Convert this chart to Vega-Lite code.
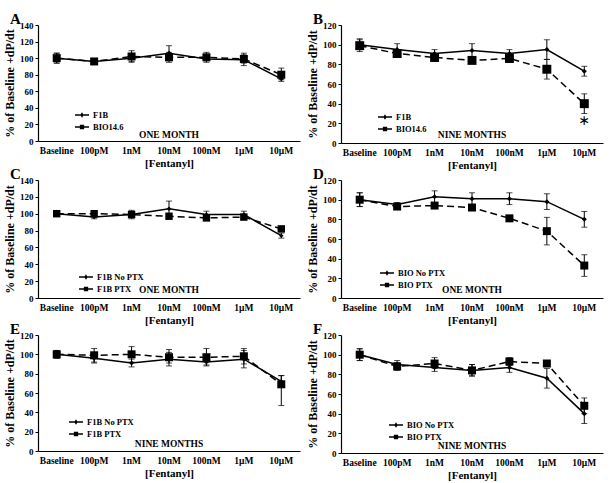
{
"$schema": "https://vega.github.io/schema/vega-lite/v6.json",
"padding": {"left": 3, "top": 12, "right": 5, "bottom": 3},
"background": "white",
"datasets": {
"d": [
{"p":"A","s":"F1B","k":1,"d":"Baseline","v":100,"lo":94,"hi":106},
{"p":"A","s":"F1B","k":1,"d":"100pM","v":96,"lo":94,"hi":98},
{"p":"A","s":"F1B","k":1,"d":"1nM","v":100,"lo":95,"hi":105},
{"p":"A","s":"F1B","k":1,"d":"10nM","v":106,"lo":97,"hi":115},
{"p":"A","s":"F1B","k":1,"d":"100nM","v":99,"lo":95,"hi":104},
{"p":"A","s":"F1B","k":1,"d":"1μM","v":98,"lo":91,"hi":106},
{"p":"A","s":"F1B","k":1,"d":"10μM","v":75,"lo":72,"hi":78},
{"p":"A","s":"BIO14.6","k":2,"d":"Baseline","v":100,"lo":94,"hi":106},
{"p":"A","s":"BIO14.6","k":2,"d":"100pM","v":96,"lo":94,"hi":98},
{"p":"A","s":"BIO14.6","k":2,"d":"1nM","v":102,"lo":96,"hi":109},
{"p":"A","s":"BIO14.6","k":2,"d":"10nM","v":101,"lo":95,"hi":107},
{"p":"A","s":"BIO14.6","k":2,"d":"100nM","v":101,"lo":97,"hi":107},
{"p":"A","s":"BIO14.6","k":2,"d":"1μM","v":99,"lo":94,"hi":104},
{"p":"A","s":"BIO14.6","k":2,"d":"10μM","v":80,"lo":74,"hi":88},
{"p":"B","s":"F1B","k":1,"d":"Baseline","v":100,"lo":95,"hi":106},
{"p":"B","s":"F1B","k":1,"d":"100pM","v":95,"lo":89,"hi":101},
{"p":"B","s":"F1B","k":1,"d":"1nM","v":91,"lo":87,"hi":95},
{"p":"B","s":"F1B","k":1,"d":"10nM","v":94,"lo":87,"hi":101},
{"p":"B","s":"F1B","k":1,"d":"100nM","v":91,"lo":87,"hi":95},
{"p":"B","s":"F1B","k":1,"d":"1μM","v":95,"lo":85,"hi":105},
{"p":"B","s":"F1B","k":1,"d":"10μM","v":73,"lo":68,"hi":78},
{"p":"B","s":"BIO14.6","k":2,"d":"Baseline","v":99,"lo":93,"hi":105},
{"p":"B","s":"BIO14.6","k":2,"d":"100pM","v":91,"lo":88,"hi":94},
{"p":"B","s":"BIO14.6","k":2,"d":"1nM","v":87,"lo":83,"hi":91},
{"p":"B","s":"BIO14.6","k":2,"d":"10nM","v":84,"lo":81,"hi":87},
{"p":"B","s":"BIO14.6","k":2,"d":"100nM","v":86,"lo":82,"hi":90},
{"p":"B","s":"BIO14.6","k":2,"d":"1μM","v":75,"lo":65,"hi":85},
{"p":"B","s":"BIO14.6","k":2,"d":"10μM","v":40,"lo":30,"hi":50},
{"p":"C","s":"F1B No PTX","k":1,"d":"Baseline","v":100,"lo":98,"hi":102},
{"p":"C","s":"F1B No PTX","k":1,"d":"100pM","v":96,"lo":94,"hi":98},
{"p":"C","s":"F1B No PTX","k":1,"d":"1nM","v":99,"lo":94,"hi":104},
{"p":"C","s":"F1B No PTX","k":1,"d":"10nM","v":106,"lo":97,"hi":115},
{"p":"C","s":"F1B No PTX","k":1,"d":"100nM","v":99,"lo":95,"hi":103},
{"p":"C","s":"F1B No PTX","k":1,"d":"1μM","v":99,"lo":96,"hi":103},
{"p":"C","s":"F1B No PTX","k":1,"d":"10μM","v":74,"lo":71,"hi":77},
{"p":"C","s":"F1B PTX","k":2,"d":"Baseline","v":100,"lo":98,"hi":102},
{"p":"C","s":"F1B PTX","k":2,"d":"100pM","v":100,"lo":98,"hi":102},
{"p":"C","s":"F1B PTX","k":2,"d":"1nM","v":99,"lo":96,"hi":102},
{"p":"C","s":"F1B PTX","k":2,"d":"10nM","v":97,"lo":95,"hi":99},
{"p":"C","s":"F1B PTX","k":2,"d":"100nM","v":95,"lo":93,"hi":97},
{"p":"C","s":"F1B PTX","k":2,"d":"1μM","v":96,"lo":94,"hi":98},
{"p":"C","s":"F1B PTX","k":2,"d":"10μM","v":82,"lo":79,"hi":85},
{"p":"D","s":"BIO No PTX","k":1,"d":"Baseline","v":100,"lo":93,"hi":107},
{"p":"D","s":"BIO No PTX","k":1,"d":"100pM","v":95,"lo":93,"hi":97},
{"p":"D","s":"BIO No PTX","k":1,"d":"1nM","v":103,"lo":97,"hi":109},
{"p":"D","s":"BIO No PTX","k":1,"d":"10nM","v":101,"lo":95,"hi":107},
{"p":"D","s":"BIO No PTX","k":1,"d":"100nM","v":101,"lo":95,"hi":107},
{"p":"D","s":"BIO No PTX","k":1,"d":"1μM","v":98,"lo":90,"hi":106},
{"p":"D","s":"BIO No PTX","k":1,"d":"10μM","v":80,"lo":72,"hi":88},
{"p":"D","s":"BIO PTX","k":2,"d":"Baseline","v":100,"lo":93,"hi":107},
{"p":"D","s":"BIO PTX","k":2,"d":"100pM","v":93,"lo":91,"hi":95},
{"p":"D","s":"BIO PTX","k":2,"d":"1nM","v":94,"lo":91,"hi":97},
{"p":"D","s":"BIO PTX","k":2,"d":"10nM","v":92,"lo":90,"hi":94},
{"p":"D","s":"BIO PTX","k":2,"d":"100nM","v":81,"lo":79,"hi":83},
{"p":"D","s":"BIO PTX","k":2,"d":"1μM","v":68,"lo":54,"hi":82},
{"p":"D","s":"BIO PTX","k":2,"d":"10μM","v":33,"lo":22,"hi":44},
{"p":"E","s":"F1B No PTX","k":1,"d":"Baseline","v":100,"lo":96,"hi":104},
{"p":"E","s":"F1B No PTX","k":1,"d":"100pM","v":96,"lo":91,"hi":101},
{"p":"E","s":"F1B No PTX","k":1,"d":"1nM","v":91,"lo":87,"hi":95},
{"p":"E","s":"F1B No PTX","k":1,"d":"10nM","v":95,"lo":88,"hi":102},
{"p":"E","s":"F1B No PTX","k":1,"d":"100nM","v":92,"lo":88,"hi":96},
{"p":"E","s":"F1B No PTX","k":1,"d":"1μM","v":95,"lo":86,"hi":104},
{"p":"E","s":"F1B No PTX","k":1,"d":"10μM","v":72,"lo":66,"hi":78},
{"p":"E","s":"F1B PTX","k":2,"d":"Baseline","v":100,"lo":96,"hi":104},
{"p":"E","s":"F1B PTX","k":2,"d":"100pM","v":99,"lo":92,"hi":106},
{"p":"E","s":"F1B PTX","k":2,"d":"1nM","v":100,"lo":92,"hi":108},
{"p":"E","s":"F1B PTX","k":2,"d":"10nM","v":97,"lo":91,"hi":105},
{"p":"E","s":"F1B PTX","k":2,"d":"100nM","v":97,"lo":89,"hi":106},
{"p":"E","s":"F1B PTX","k":2,"d":"1μM","v":98,"lo":90,"hi":106},
{"p":"E","s":"F1B PTX","k":2,"d":"10μM","v":69,"lo":47,"hi":78},
{"p":"F","s":"BIO No PTX","k":1,"d":"Baseline","v":100,"lo":94,"hi":106},
{"p":"F","s":"BIO No PTX","k":1,"d":"100pM","v":90,"lo":86,"hi":94},
{"p":"F","s":"BIO No PTX","k":1,"d":"1nM","v":87,"lo":83,"hi":91},
{"p":"F","s":"BIO No PTX","k":1,"d":"10nM","v":84,"lo":78,"hi":90},
{"p":"F","s":"BIO No PTX","k":1,"d":"100nM","v":87,"lo":82,"hi":92},
{"p":"F","s":"BIO No PTX","k":1,"d":"1μM","v":76,"lo":66,"hi":86},
{"p":"F","s":"BIO No PTX","k":1,"d":"10μM","v":40,"lo":30,"hi":50},
{"p":"F","s":"BIO PTX","k":2,"d":"Baseline","v":100,"lo":94,"hi":106},
{"p":"F","s":"BIO PTX","k":2,"d":"100pM","v":88,"lo":84,"hi":92},
{"p":"F","s":"BIO PTX","k":2,"d":"1nM","v":91,"lo":86,"hi":97},
{"p":"F","s":"BIO PTX","k":2,"d":"10nM","v":84,"lo":79,"hi":90},
{"p":"F","s":"BIO PTX","k":2,"d":"100nM","v":93,"lo":89,"hi":97},
{"p":"F","s":"BIO PTX","k":2,"d":"1μM","v":91,"lo":88,"hi":94},
{"p":"F","s":"BIO PTX","k":2,"d":"10μM","v":48,"lo":40,"hi":56}
]
},
"columns": 2,
"bounds": "flush",
"spacing": {"column": 41, "row": 37},
"concat": [
{
"width": 262, "height": 116,
"title": {"text": "A"},
"data": {"name": "d"},
"transform": [{"filter": "datum.p == 'A'"}],
"encoding": {"x": {"field": "d", "type": "ordinal", "sort": ["Baseline","100pM","1nM","10nM","100nM","1μM","10μM"], "scale": {"type": "band", "paddingInner": 0, "paddingOuter": 0}, "axis": {"title": "[Fentanyl]"}}},
"layer": [
{"mark": {"type": "rule", "color": "black", "strokeWidth": 1}, "encoding": {"y": {"field": "lo", "type": "quantitative", "scale": {"domain": [0, 140], "nice": false}, "axis": {"title": "% of Baseline +dP/dt", "values": [0,20,40,60,80,100,120,140]}}, "y2": {"field": "hi"}}},
{"mark": {"type": "tick", "color": "black", "size": 6, "thickness": 1, "orient": "horizontal"}, "encoding": {"y": {"field": "lo", "type": "quantitative", "axis": {"values": [0,20,40,60,80,100,120,140]}}}},
{"mark": {"type": "tick", "color": "black", "size": 6, "thickness": 1, "orient": "horizontal"}, "encoding": {"y": {"field": "hi", "type": "quantitative", "axis": {"values": [0,20,40,60,80,100,120,140]}}}},
{"transform": [{"filter": "datum.k == 1"}], "mark": {"type": "line", "color": "black", "strokeWidth": 1.5}, "encoding": {"y": {"field": "v", "type": "quantitative", "axis": {"values": [0,20,40,60,80,100,120,140]}}}},
{"transform": [{"filter": "datum.k == 2"}], "mark": {"type": "line", "color": "black", "strokeWidth": 1.5, "strokeDash": [7, 4]}, "encoding": {"y": {"field": "v", "type": "quantitative", "axis": {"values": [0,20,40,60,80,100,120,140]}}}},
{"transform": [{"filter": "datum.k == 1"}], "mark": {"type": "point", "shape": "diamond", "filled": true, "color": "black", "size": 25, "opacity": 1}, "encoding": {"y": {"field": "v", "type": "quantitative", "axis": {"values": [0,20,40,60,80,100,120,140]}}}},
{"transform": [{"filter": "datum.k == 2"}], "mark": {"type": "point", "shape": "square", "filled": true, "color": "black", "size": 64, "opacity": 1}, "encoding": {"y": {"field": "v", "type": "quantitative", "axis": {"values": [0,20,40,60,80,100,120,140]}}}},
{"transform": [{"filter": "false"}], "mark": {"type": "point", "filled": true, "strokeWidth": 1.3, "size": 100, "opacity": 1}, "encoding": {"y": {"field": "v", "type": "quantitative", "axis": {"values": [0,20,40,60,80,100,120,140]}},
 "shape": {"field": "s", "type": "nominal", "scale": {"domain": ["F1B", "BIO14.6"], "range": ["M-1.4,0H1.4M0,-0.3L0.2,0L0,0.3L-0.2,0Z", "M-1.4,0H1.4M-0.3,-0.3H0.3V0.3H-0.3Z"]}, "legend": {"orient": "none", "legendX": 38, "legendY": 84, "title": null}},
 "color": {"field": "s", "type": "nominal", "scale": {"domain": ["F1B", "BIO14.6"], "range": ["black", "black"]}, "legend": {"orient": "none", "legendX": 38, "legendY": 84, "title": null}},
 "stroke": {"field": "s", "type": "nominal", "scale": {"domain": ["F1B", "BIO14.6"], "range": ["black", "black"]}, "legend": {"orient": "none", "legendX": 38, "legendY": 84, "title": null}}}},
{"data": {"values": [{"t": "ONE MONTH"}]}, "mark": {"type": "text", "color": "black", "fill": "black", "fontWeight": "bold", "fontSize": 9.5, "font": "Liberation Serif", "baseline": "middle"}, "encoding": {"x": {"datum": "10nM"}, "y": {"datum": 7, "axis": {"values": [0,20,40,60,80,100,120,140]}}, "text": {"field": "t"}}}
]
},
{
"width": 262, "height": 118,
"title": {"text": "B"},
"data": {"name": "d"},
"transform": [{"filter": "datum.p == 'B'"}],
"encoding": {"x": {"field": "d", "type": "ordinal", "sort": ["Baseline","100pM","1nM","10nM","100nM","1μM","10μM"], "scale": {"type": "band", "paddingInner": 0, "paddingOuter": 0}, "axis": {"title": "[Fentanyl]"}}},
"layer": [
{"mark": {"type": "rule", "color": "black", "strokeWidth": 1}, "encoding": {"y": {"field": "lo", "type": "quantitative", "scale": {"domain": [0, 120], "nice": false}, "axis": {"title": "% of Baseline +dP/dt", "values": [0,20,40,60,80,100,120]}}, "y2": {"field": "hi"}}},
{"mark": {"type": "tick", "color": "black", "size": 6, "thickness": 1, "orient": "horizontal"}, "encoding": {"y": {"field": "lo", "type": "quantitative", "axis": {"values": [0,20,40,60,80,100,120]}}}},
{"mark": {"type": "tick", "color": "black", "size": 6, "thickness": 1, "orient": "horizontal"}, "encoding": {"y": {"field": "hi", "type": "quantitative", "axis": {"values": [0,20,40,60,80,100,120]}}}},
{"transform": [{"filter": "datum.k == 1"}], "mark": {"type": "line", "color": "black", "strokeWidth": 1.5}, "encoding": {"y": {"field": "v", "type": "quantitative", "axis": {"values": [0,20,40,60,80,100,120]}}}},
{"transform": [{"filter": "datum.k == 2"}], "mark": {"type": "line", "color": "black", "strokeWidth": 1.5, "strokeDash": [7, 4]}, "encoding": {"y": {"field": "v", "type": "quantitative", "axis": {"values": [0,20,40,60,80,100,120]}}}},
{"transform": [{"filter": "datum.k == 1"}], "mark": {"type": "point", "shape": "diamond", "filled": true, "color": "black", "size": 25, "opacity": 1}, "encoding": {"y": {"field": "v", "type": "quantitative", "axis": {"values": [0,20,40,60,80,100,120]}}}},
{"transform": [{"filter": "datum.k == 2"}], "mark": {"type": "point", "shape": "square", "filled": true, "color": "black", "size": 80, "opacity": 1}, "encoding": {"y": {"field": "v", "type": "quantitative", "axis": {"values": [0,20,40,60,80,100,120]}}}},
{"transform": [{"filter": "false"}], "mark": {"type": "point", "filled": true, "strokeWidth": 1.3, "size": 100, "opacity": 1}, "encoding": {"y": {"field": "v", "type": "quantitative", "axis": {"values": [0,20,40,60,80,100,120]}},
 "shape": {"field": "s", "type": "nominal", "scale": {"domain": ["F1B", "BIO14.6"], "range": ["M-1.4,0H1.4M0,-0.3L0.2,0L0,0.3L-0.2,0Z", "M-1.4,0H1.4M-0.3,-0.3H0.3V0.3H-0.3Z"]}, "legend": {"orient": "none", "legendX": 38, "legendY": 86, "title": null}},
 "color": {"field": "s", "type": "nominal", "scale": {"domain": ["F1B", "BIO14.6"], "range": ["black", "black"]}, "legend": {"orient": "none", "legendX": 38, "legendY": 86, "title": null}},
 "stroke": {"field": "s", "type": "nominal", "scale": {"domain": ["F1B", "BIO14.6"], "range": ["black", "black"]}, "legend": {"orient": "none", "legendX": 38, "legendY": 86, "title": null}}}},
{"data": {"values": [{"t": "NINE MONTHS"}]}, "mark": {"type": "text", "color": "black", "fill": "black", "fontWeight": "bold", "fontSize": 9.5, "font": "Liberation Serif", "baseline": "middle"}, "encoding": {"x": {"datum": "10nM"}, "y": {"datum": 8, "axis": {"values": [0,20,40,60,80,100,120]}}, "text": {"field": "t"}}},
{"data": {"values": [{"t": "∗"}]}, "mark": {"type": "text", "color": "black", "fill": "black", "fontSize": 14, "font": "DejaVu Sans", "baseline": "middle"}, "encoding": {"x": {"datum": "10μM"}, "y": {"datum": 22, "axis": {"values": [0,20,40,60,80,100,120]}}, "text": {"field": "t"}}}
]
},
{
"width": 262, "height": 118,
"title": {"text": "C"},
"data": {"name": "d"},
"transform": [{"filter": "datum.p == 'C'"}],
"encoding": {"x": {"field": "d", "type": "ordinal", "sort": ["Baseline","100pM","1nM","10nM","100nM","1μM","10μM"], "scale": {"type": "band", "paddingInner": 0, "paddingOuter": 0}, "axis": {"title": "[Fentanyl]"}}},
"layer": [
{"mark": {"type": "rule", "color": "black", "strokeWidth": 1}, "encoding": {"y": {"field": "lo", "type": "quantitative", "scale": {"domain": [0, 140], "nice": false}, "axis": {"title": "% of Baseline +dP/dt", "values": [0,20,40,60,80,100,120,140]}}, "y2": {"field": "hi"}}},
{"mark": {"type": "tick", "color": "black", "size": 6, "thickness": 1, "orient": "horizontal"}, "encoding": {"y": {"field": "lo", "type": "quantitative", "axis": {"values": [0,20,40,60,80,100,120,140]}}}},
{"mark": {"type": "tick", "color": "black", "size": 6, "thickness": 1, "orient": "horizontal"}, "encoding": {"y": {"field": "hi", "type": "quantitative", "axis": {"values": [0,20,40,60,80,100,120,140]}}}},
{"transform": [{"filter": "datum.k == 1"}], "mark": {"type": "line", "color": "black", "strokeWidth": 1.5}, "encoding": {"y": {"field": "v", "type": "quantitative", "axis": {"values": [0,20,40,60,80,100,120,140]}}}},
{"transform": [{"filter": "datum.k == 2"}], "mark": {"type": "line", "color": "black", "strokeWidth": 1.5, "strokeDash": [7, 4]}, "encoding": {"y": {"field": "v", "type": "quantitative", "axis": {"values": [0,20,40,60,80,100,120,140]}}}},
{"transform": [{"filter": "datum.k == 1"}], "mark": {"type": "point", "shape": "diamond", "filled": true, "color": "black", "size": 20, "opacity": 1}, "encoding": {"y": {"field": "v", "type": "quantitative", "axis": {"values": [0,20,40,60,80,100,120,140]}}}},
{"transform": [{"filter": "datum.k == 2"}], "mark": {"type": "point", "shape": "square", "filled": true, "color": "black", "size": 55, "opacity": 1}, "encoding": {"y": {"field": "v", "type": "quantitative", "axis": {"values": [0,20,40,60,80,100,120,140]}}}},
{"transform": [{"filter": "false"}], "mark": {"type": "point", "filled": true, "strokeWidth": 1.3, "size": 100, "opacity": 1}, "encoding": {"y": {"field": "v", "type": "quantitative", "axis": {"values": [0,20,40,60,80,100,120,140]}},
 "shape": {"field": "s", "type": "nominal", "scale": {"domain": ["F1B No PTX", "F1B PTX"], "range": ["M-1.4,0H1.4M0,-0.3L0.2,0L0,0.3L-0.2,0Z", "M-1.4,0H1.4M-0.3,-0.3H0.3V0.3H-0.3Z"]}, "legend": {"orient": "none", "legendX": 42, "legendY": 91, "title": null}},
 "color": {"field": "s", "type": "nominal", "scale": {"domain": ["F1B No PTX", "F1B PTX"], "range": ["black", "black"]}, "legend": {"orient": "none", "legendX": 42, "legendY": 91, "title": null}},
 "stroke": {"field": "s", "type": "nominal", "scale": {"domain": ["F1B No PTX", "F1B PTX"], "range": ["black", "black"]}, "legend": {"orient": "none", "legendX": 42, "legendY": 91, "title": null}}}},
{"data": {"values": [{"t": "ONE MONTH"}]}, "mark": {"type": "text", "color": "black", "fill": "black", "fontWeight": "bold", "fontSize": 9.5, "font": "Liberation Serif", "baseline": "middle"}, "encoding": {"x": {"datum": "10nM"}, "y": {"datum": 9, "axis": {"values": [0,20,40,60,80,100,120,140]}}, "text": {"field": "t"}}}
]
},
{
"width": 262, "height": 118,
"title": {"text": "D"},
"data": {"name": "d"},
"transform": [{"filter": "datum.p == 'D'"}],
"encoding": {"x": {"field": "d", "type": "ordinal", "sort": ["Baseline","100pM","1nM","10nM","100nM","1μM","10μM"], "scale": {"type": "band", "paddingInner": 0, "paddingOuter": 0}, "axis": {"title": "[Fentanyl]"}}},
"layer": [
{"mark": {"type": "rule", "color": "black", "strokeWidth": 1}, "encoding": {"y": {"field": "lo", "type": "quantitative", "scale": {"domain": [0, 120], "nice": false}, "axis": {"title": "% of Baseline +dP/dt", "values": [0,20,40,60,80,100,120]}}, "y2": {"field": "hi"}}},
{"mark": {"type": "tick", "color": "black", "size": 6, "thickness": 1, "orient": "horizontal"}, "encoding": {"y": {"field": "lo", "type": "quantitative", "axis": {"values": [0,20,40,60,80,100,120]}}}},
{"mark": {"type": "tick", "color": "black", "size": 6, "thickness": 1, "orient": "horizontal"}, "encoding": {"y": {"field": "hi", "type": "quantitative", "axis": {"values": [0,20,40,60,80,100,120]}}}},
{"transform": [{"filter": "datum.k == 1"}], "mark": {"type": "line", "color": "black", "strokeWidth": 1.5}, "encoding": {"y": {"field": "v", "type": "quantitative", "axis": {"values": [0,20,40,60,80,100,120]}}}},
{"transform": [{"filter": "datum.k == 2"}], "mark": {"type": "line", "color": "black", "strokeWidth": 1.5, "strokeDash": [7, 4]}, "encoding": {"y": {"field": "v", "type": "quantitative", "axis": {"values": [0,20,40,60,80,100,120]}}}},
{"transform": [{"filter": "datum.k == 1"}], "mark": {"type": "point", "shape": "diamond", "filled": true, "color": "black", "size": 25, "opacity": 1}, "encoding": {"y": {"field": "v", "type": "quantitative", "axis": {"values": [0,20,40,60,80,100,120]}}}},
{"transform": [{"filter": "datum.k == 2"}], "mark": {"type": "point", "shape": "square", "filled": true, "color": "black", "size": 64, "opacity": 1}, "encoding": {"y": {"field": "v", "type": "quantitative", "axis": {"values": [0,20,40,60,80,100,120]}}}},
{"transform": [{"filter": "false"}], "mark": {"type": "point", "filled": true, "strokeWidth": 1.3, "size": 100, "opacity": 1}, "encoding": {"y": {"field": "v", "type": "quantitative", "axis": {"values": [0,20,40,60,80,100,120]}},
 "shape": {"field": "s", "type": "nominal", "scale": {"domain": ["BIO No PTX", "BIO PTX"], "range": ["M-1.4,0H1.4M0,-0.3L0.2,0L0,0.3L-0.2,0Z", "M-1.4,0H1.4M-0.3,-0.3H0.3V0.3H-0.3Z"]}, "legend": {"orient": "none", "legendX": 40, "legendY": 87, "title": null}},
 "color": {"field": "s", "type": "nominal", "scale": {"domain": ["BIO No PTX", "BIO PTX"], "range": ["black", "black"]}, "legend": {"orient": "none", "legendX": 40, "legendY": 87, "title": null}},
 "stroke": {"field": "s", "type": "nominal", "scale": {"domain": ["BIO No PTX", "BIO PTX"], "range": ["black", "black"]}, "legend": {"orient": "none", "legendX": 40, "legendY": 87, "title": null}}}},
{"data": {"values": [{"t": "ONE MONTH"}]}, "mark": {"type": "text", "color": "black", "fill": "black", "fontWeight": "bold", "fontSize": 9.5, "font": "Liberation Serif", "baseline": "middle"}, "encoding": {"x": {"datum": "10nM"}, "y": {"datum": 8, "axis": {"values": [0,20,40,60,80,100,120]}}, "text": {"field": "t"}}}
]
},
{
"width": 262, "height": 116,
"title": {"text": "E"},
"data": {"name": "d"},
"transform": [{"filter": "datum.p == 'E'"}],
"encoding": {"x": {"field": "d", "type": "ordinal", "sort": ["Baseline","100pM","1nM","10nM","100nM","1μM","10μM"], "scale": {"type": "band", "paddingInner": 0, "paddingOuter": 0}, "axis": {"title": "[Fentanyl]"}}},
"layer": [
{"mark": {"type": "rule", "color": "black", "strokeWidth": 1}, "encoding": {"y": {"field": "lo", "type": "quantitative", "scale": {"domain": [0, 120], "nice": false}, "axis": {"title": "% of Baseline +dP/dt", "values": [0,20,40,60,80,100,120]}}, "y2": {"field": "hi"}}},
{"mark": {"type": "tick", "color": "black", "size": 6, "thickness": 1, "orient": "horizontal"}, "encoding": {"y": {"field": "lo", "type": "quantitative", "axis": {"values": [0,20,40,60,80,100,120]}}}},
{"mark": {"type": "tick", "color": "black", "size": 6, "thickness": 1, "orient": "horizontal"}, "encoding": {"y": {"field": "hi", "type": "quantitative", "axis": {"values": [0,20,40,60,80,100,120]}}}},
{"transform": [{"filter": "datum.k == 1"}], "mark": {"type": "line", "color": "black", "strokeWidth": 1.5}, "encoding": {"y": {"field": "v", "type": "quantitative", "axis": {"values": [0,20,40,60,80,100,120]}}}},
{"transform": [{"filter": "datum.k == 2"}], "mark": {"type": "line", "color": "black", "strokeWidth": 1.5, "strokeDash": [7, 4]}, "encoding": {"y": {"field": "v", "type": "quantitative", "axis": {"values": [0,20,40,60,80,100,120]}}}},
{"transform": [{"filter": "datum.k == 1"}], "mark": {"type": "point", "shape": "diamond", "filled": true, "color": "black", "size": 25, "opacity": 1}, "encoding": {"y": {"field": "v", "type": "quantitative", "axis": {"values": [0,20,40,60,80,100,120]}}}},
{"transform": [{"filter": "datum.k == 2"}], "mark": {"type": "point", "shape": "square", "filled": true, "color": "black", "size": 64, "opacity": 1}, "encoding": {"y": {"field": "v", "type": "quantitative", "axis": {"values": [0,20,40,60,80,100,120]}}}},
{"transform": [{"filter": "false"}], "mark": {"type": "point", "filled": true, "strokeWidth": 1.3, "size": 100, "opacity": 1}, "encoding": {"y": {"field": "v", "type": "quantitative", "axis": {"values": [0,20,40,60,80,100,120]}},
 "shape": {"field": "s", "type": "nominal", "scale": {"domain": ["F1B No PTX", "F1B PTX"], "range": ["M-1.4,0H1.4M0,-0.3L0.2,0L0,0.3L-0.2,0Z", "M-1.4,0H1.4M-0.3,-0.3H0.3V0.3H-0.3Z"]}, "legend": {"orient": "none", "legendX": 32, "legendY": 81, "title": null}},
 "color": {"field": "s", "type": "nominal", "scale": {"domain": ["F1B No PTX", "F1B PTX"], "range": ["black", "black"]}, "legend": {"orient": "none", "legendX": 32, "legendY": 81, "title": null}},
 "stroke": {"field": "s", "type": "nominal", "scale": {"domain": ["F1B No PTX", "F1B PTX"], "range": ["black", "black"]}, "legend": {"orient": "none", "legendX": 32, "legendY": 81, "title": null}}}},
{"data": {"values": [{"t": "NINE MONTHS"}]}, "mark": {"type": "text", "color": "black", "fill": "black", "fontWeight": "bold", "fontSize": 9.5, "font": "Liberation Serif", "baseline": "middle"}, "encoding": {"x": {"datum": "10nM"}, "y": {"datum": 7, "axis": {"values": [0,20,40,60,80,100,120]}}, "text": {"field": "t"}}}
]
},
{
"width": 262, "height": 118,
"title": {"text": "F"},
"data": {"name": "d"},
"transform": [{"filter": "datum.p == 'F'"}],
"encoding": {"x": {"field": "d", "type": "ordinal", "sort": ["Baseline","100pM","1nM","10nM","100nM","1μM","10μM"], "scale": {"type": "band", "paddingInner": 0, "paddingOuter": 0}, "axis": {"title": "[Fentanyl]"}}},
"layer": [
{"mark": {"type": "rule", "color": "black", "strokeWidth": 1}, "encoding": {"y": {"field": "lo", "type": "quantitative", "scale": {"domain": [0, 120], "nice": false}, "axis": {"title": "% of Baseline +dP/dt", "values": [0,20,40,60,80,100,120]}}, "y2": {"field": "hi"}}},
{"mark": {"type": "tick", "color": "black", "size": 6, "thickness": 1, "orient": "horizontal"}, "encoding": {"y": {"field": "lo", "type": "quantitative", "axis": {"values": [0,20,40,60,80,100,120]}}}},
{"mark": {"type": "tick", "color": "black", "size": 6, "thickness": 1, "orient": "horizontal"}, "encoding": {"y": {"field": "hi", "type": "quantitative", "axis": {"values": [0,20,40,60,80,100,120]}}}},
{"transform": [{"filter": "datum.k == 1"}], "mark": {"type": "line", "color": "black", "strokeWidth": 1.5}, "encoding": {"y": {"field": "v", "type": "quantitative", "axis": {"values": [0,20,40,60,80,100,120]}}}},
{"transform": [{"filter": "datum.k == 2"}], "mark": {"type": "line", "color": "black", "strokeWidth": 1.5, "strokeDash": [7, 4]}, "encoding": {"y": {"field": "v", "type": "quantitative", "axis": {"values": [0,20,40,60,80,100,120]}}}},
{"transform": [{"filter": "datum.k == 1"}], "mark": {"type": "point", "shape": "diamond", "filled": true, "color": "black", "size": 25, "opacity": 1}, "encoding": {"y": {"field": "v", "type": "quantitative", "axis": {"values": [0,20,40,60,80,100,120]}}}},
{"transform": [{"filter": "datum.k == 2"}], "mark": {"type": "point", "shape": "square", "filled": true, "color": "black", "size": 64, "opacity": 1}, "encoding": {"y": {"field": "v", "type": "quantitative", "axis": {"values": [0,20,40,60,80,100,120]}}}},
{"transform": [{"filter": "false"}], "mark": {"type": "point", "filled": true, "strokeWidth": 1.3, "size": 100, "opacity": 1}, "encoding": {"y": {"field": "v", "type": "quantitative", "axis": {"values": [0,20,40,60,80,100,120]}},
 "shape": {"field": "s", "type": "nominal", "scale": {"domain": ["BIO No PTX", "BIO PTX"], "range": ["M-1.4,0H1.4M0,-0.3L0.2,0L0,0.3L-0.2,0Z", "M-1.4,0H1.4M-0.3,-0.3H0.3V0.3H-0.3Z"]}, "legend": {"orient": "none", "legendX": 49, "legendY": 84, "title": null}},
 "color": {"field": "s", "type": "nominal", "scale": {"domain": ["BIO No PTX", "BIO PTX"], "range": ["black", "black"]}, "legend": {"orient": "none", "legendX": 49, "legendY": 84, "title": null}},
 "stroke": {"field": "s", "type": "nominal", "scale": {"domain": ["BIO No PTX", "BIO PTX"], "range": ["black", "black"]}, "legend": {"orient": "none", "legendX": 49, "legendY": 84, "title": null}}}},
{"data": {"values": [{"t": "NINE MONTHS"}]}, "mark": {"type": "text", "color": "black", "fill": "black", "fontWeight": "bold", "fontSize": 9.5, "font": "Liberation Serif", "baseline": "middle"}, "encoding": {"x": {"datum": "10nM"}, "y": {"datum": 7, "axis": {"values": [0,20,40,60,80,100,120]}}, "text": {"field": "t"}}}
]
}
],
"resolve": {"scale": {"shape": "independent", "color": "independent", "stroke": "independent"}, "legend": {"shape": "independent", "color": "independent", "stroke": "independent"}},
"config": {
"font": "Liberation Serif",
"view": {"stroke": null},
"axis": {"grid": false, "labelFont": "Liberation Serif", "labelFontWeight": "bold", "labelColor": "black", "titleFont": "Liberation Serif", "titleFontWeight": "bold", "titleColor": "black", "domainColor": "black", "tickColor": "black", "domainWidth": 1.2},
"axisX": {"labelAngle": 0, "ticks": false, "labelPadding": 4, "titlePadding": 3, "labelFontSize": 9.5, "titleFontSize": 11},
"axisY": {"tickSize": 3, "labelPadding": 2, "titlePadding": 3, "labelFontSize": 9, "titleFontSize": 12, "labelOverlap": false},
"legend": {"labelFont": "Liberation Serif", "labelFontWeight": "bold", "labelFontSize": 8.5, "labelColor": "black", "symbolSize": 100, "symbolStrokeWidth": 1.3, "labelOffset": 5, "rowPadding": 1, "padding": 0},
"title": {"anchor": "start", "frame": "group", "dx": -28, "fontSize": 15, "fontWeight": "bold", "font": "Liberation Serif", "color": "black", "offset": -6}
}
}
